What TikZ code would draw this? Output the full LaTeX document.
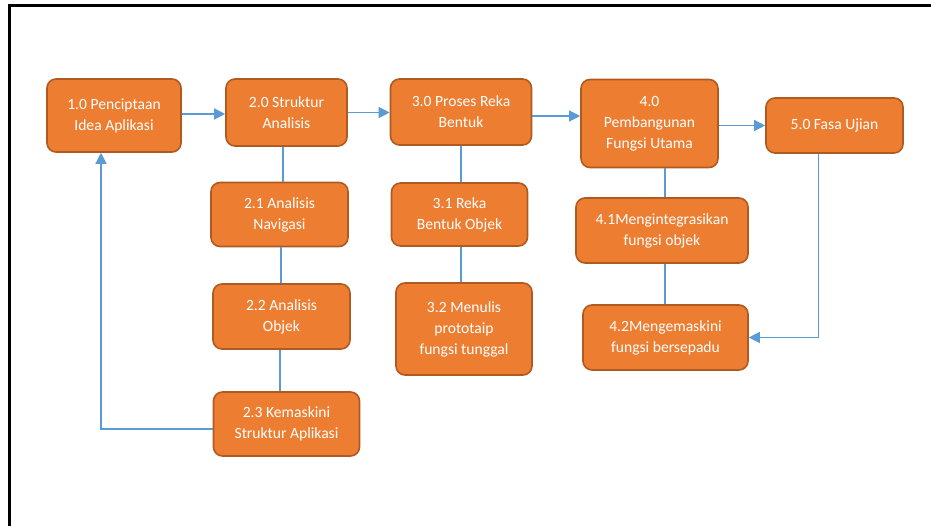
\documentclass[tikz,border=0pt]{standalone}
\usepackage{fontspec}
\setmainfont{Carlito}
\usetikzlibrary{arrows.meta}
\definecolor{boxfill}{HTML}{ED7D31}
\definecolor{boxdraw}{HTML}{AE5A21}
\definecolor{linkblue}{HTML}{5B9BD5}
\tikzset{
  box/.style={draw=boxdraw, fill=boxfill, line width=1.6pt, rounded corners=9pt,
    text=white, align=center, inner sep=2pt,
    font=\fontsize{15.6}{21}\selectfont},
  link/.style={draw=linkblue, line width=1.3pt},
  arr/.style={link, -{Triangle[length=11pt,width=11pt]}}
}
\begin{document}
\begin{tikzpicture}[x=1pt,y=-1pt]
\useasboundingbox (0,0) rectangle (931,526);
\fill[white] (0,0) rectangle (931,526);
% frame
\draw[line width=3pt] (9.5,540) -- (9.5,6) -- (940,6);
% nodes
\node[box, minimum width=134pt, minimum height=73pt] (n10) at (114,115.5) {1.0 Penciptaan\\Idea Aplikasi};
\node[box, minimum width=121pt, minimum height=67pt] (n20) at (286.5,112.5) {2.0 Struktur\\Analisis};
\node[box, minimum width=141pt, minimum height=66pt] (n30) at (461,112) {3.0 Proses Reka\\Bentuk};
\node[box, minimum width=137pt, minimum height=88pt] (n40) at (649.5,123.5) {4.0\\Pembangunan\\Fungsi Utama};
\node[box, minimum width=137pt, minimum height=55pt] (n50) at (834.5,125.5) {5.0 Fasa Ujian};
\node[box, minimum width=137pt, minimum height=64pt] (n21) at (279.5,214.5) {2.1 Analisis\\Navigasi};
\node[box, minimum width=137pt, minimum height=65pt] (n22) at (281.5,316.5) {2.2 Analisis\\Objek};
\node[box, minimum width=146pt, minimum height=64pt] (n23) at (286.5,424) {2.3 Kemaskini\\Struktur Aplikasi};
\node[box, minimum width=136pt, minimum height=63pt] (n31) at (459.5,214.5) {3.1 Reka\\Bentuk Objek};
\node[box, minimum width=136pt, minimum height=92pt] (n32) at (464,329) {3.2 Menulis\\prototaip\\fungsi tunggal};
\node[box, minimum width=172pt, minimum height=65pt] (n41) at (662,230.5) {4.1Mengintegrasikan\\fungsi objek};
\node[box, minimum width=165pt, minimum height=65pt] (n42) at (665.5,337.5) {4.2Mengemaskini\\fungsi bersepadu};
% horizontal arrows
\draw[arr] ([yshift=1.5pt]n10.east) -- ([yshift=1.5pt]n10.east -| n20.west);
\draw[arr] (n20.east) -- (n20.east -| n30.west);
\draw[arr] ([yshift=-4pt]n30.east) -- ([yshift=-4pt]n30.east -| n40.west);
\draw[arr] (n40.east |- n50.west) -- (n50.west);
% vertical lines
\draw[link] ([xshift=-3.5pt]n20.south) -- ([xshift=-3.5pt]n20.south |- n21.north);
\draw[link] ([xshift=1.5pt]n21.south) -- ([xshift=1.5pt]n21.south |- n22.north);
\draw[link] ([xshift=-1.5pt]n22.south) -- ([xshift=-1.5pt]n22.south |- n23.north);
\draw[link] (n30.south) -- (n30.south |- n31.north);
\draw[link] ([xshift=1.5pt]n31.south) -- ([xshift=1.5pt]n31.south |- n32.north);
\draw[link] ([xshift=15.5pt]n40.south) -- ([xshift=15.5pt]n40.south |- n41.north);
\draw[link] ([xshift=3pt]n41.south) -- ([xshift=3pt]n41.south |- n42.north);
% feedback arrows
\draw[arr] ([yshift=-5pt]n23.west) -| ([xshift=-13pt]n10.south);
\draw[arr] ([xshift=-16pt]n50.south) |- (n42.east);
\end{tikzpicture}
\end{document}
